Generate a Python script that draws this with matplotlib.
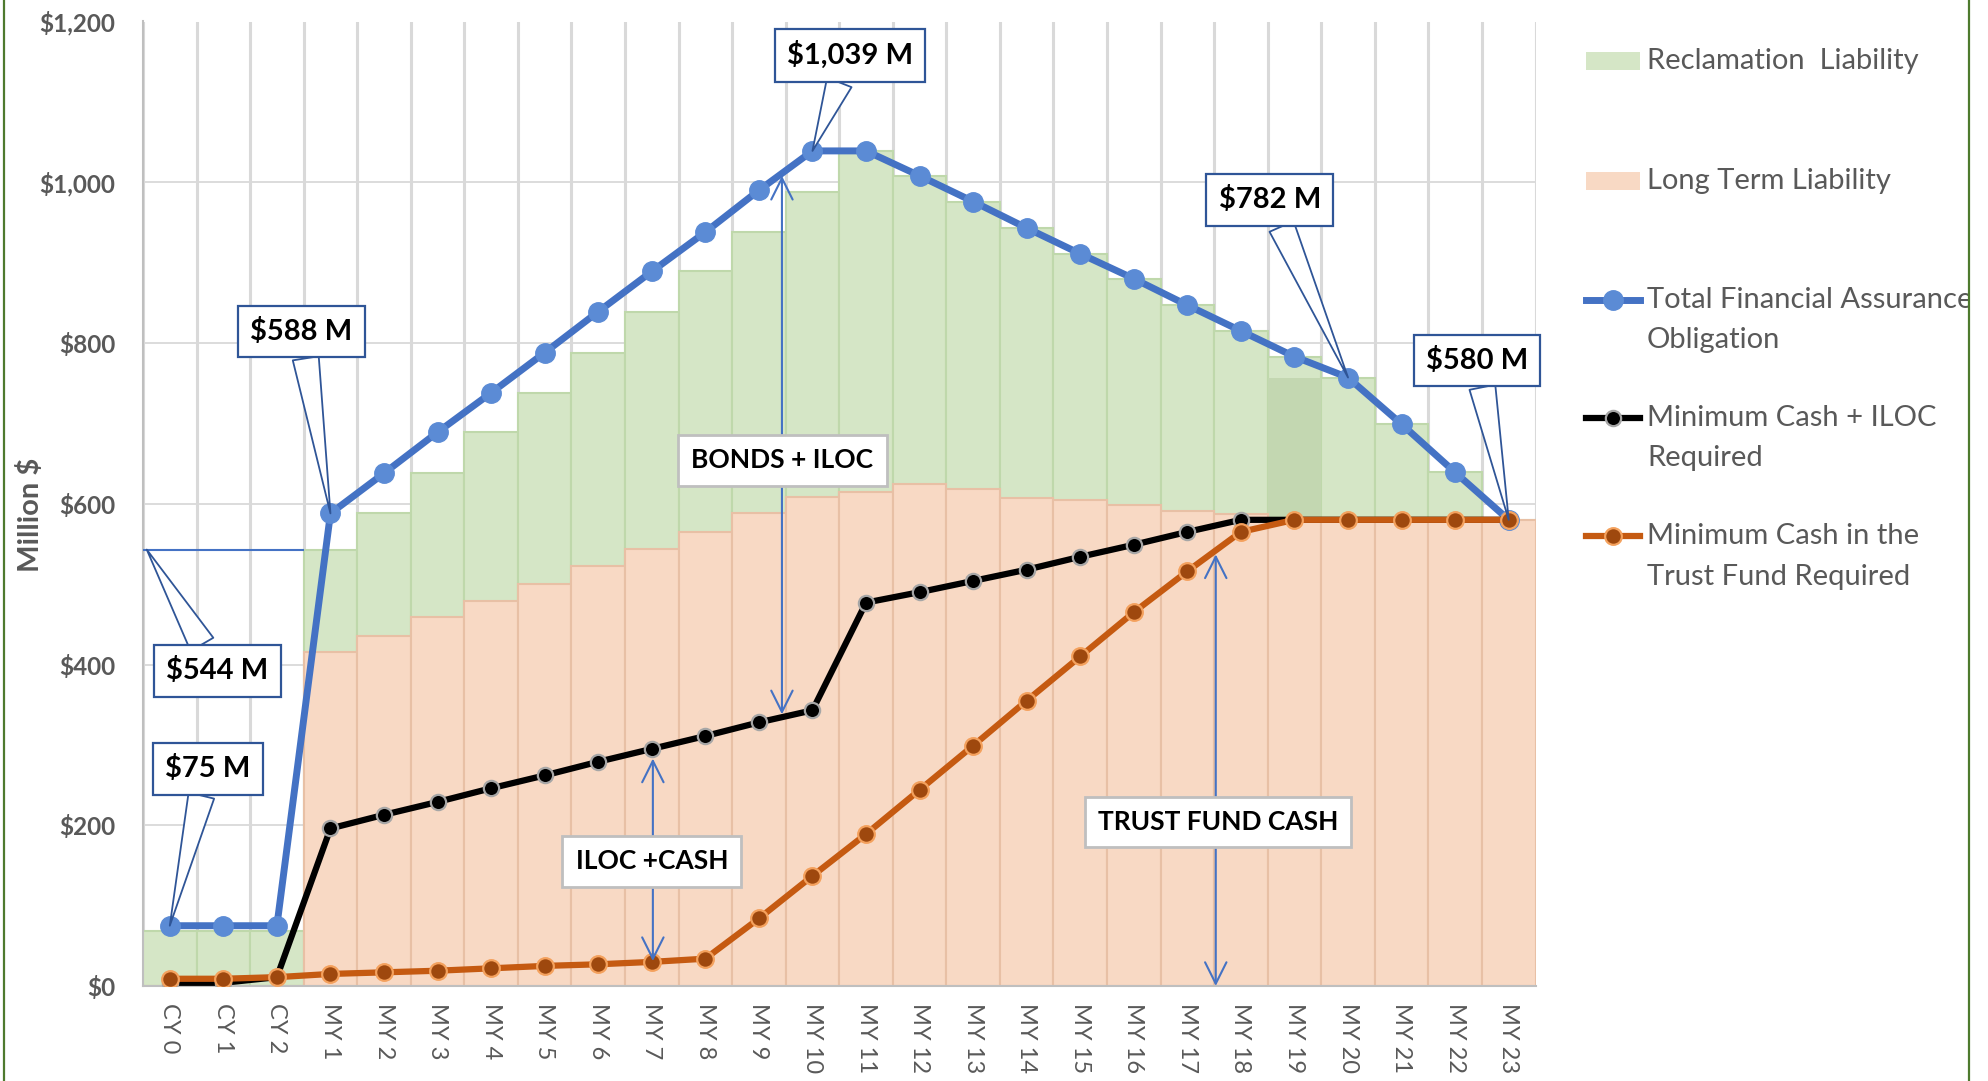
import numpy as np
import matplotlib.pyplot as plt
from matplotlib.patches import Rectangle
from matplotlib.lines import Line2D

plt.rcParams['font.family'] = ['Lato', 'DejaVu Sans']

# categories
years = ['CY 0', 'CY 1', 'CY 2'] + ['MY %d' % i for i in range(1, 24)]

# series ($ million)
reclamation = [69, 69, 69, 543, 588, 638, 689, 738, 788, 839, 889, 938, 988, 1039,
               1008, 976, 943, 911, 880, 847, 815, 783, 757, 699, 639, 580]
long_term = [0, 0, 0, 415, 436, 459, 479, 500, 523, 544, 565, 588, 609, 615,
             625, 618, 607, 605, 598, 591, 587, 580, 580, 580, 580, 580]
total_fa = [75, 75, 75, 588, 638, 689, 738, 788, 839, 889, 938, 990, 1039, 1039,
            1008, 976, 943, 911, 880, 847, 815, 783, 757, 699, 639, 580]
min_cash_iloc = [4, 4, 11, 196, 213, 229, 246, 262, 279, 295, 311, 328, 343, 477,
                 490, 504, 518, 534, 549, 565, 580, 580, 580, 580, 580, 580]
min_cash_trust = [9, 9, 11, 15, 17, 19, 22, 25, 27, 30, 34, 84, 137, 189,
                  244, 299, 355, 410, 465, 516, 565, 580, 580, 580, 580, 580]
overlap_year, overlap_val = 'MY 19', 757

yticks = [0, 200, 400, 600, 800, 1000, 1200]

GRAY = '#595959'
CALLOUT = '#2F5597'

fig = plt.figure(figsize=(19.88, 10.81), dpi=100)
ax = fig.add_axes([143 / 1988, 1 - 986 / 1081, (1535.5 - 143) / 1988, (986 - 21.5) / 1081])
x = np.arange(len(years))

ax.bar(x, reclamation, width=1.0, color='#D5E6C6', edgecolor='#BFD8AB', linewidth=1.5, zorder=1)
ax.bar(years.index(overlap_year), overlap_val, width=1.0, color='#C3D7B1', linewidth=0, zorder=1.1)
ax.bar(x, long_term, width=1.0, color='#F8D9C4', edgecolor='#E8C0A5', linewidth=1.5, zorder=1.2)

blue_style = dict(color='#4472C4', lw=5, marker='o', ms=14, mfc='#5B8BD5', mec='#5B8BD5')
black_style = dict(color='black', lw=4.5, marker='o', ms=11, mfc='black', mec='#A6A6A6', mew=1.6)
orange_style = dict(color='#C55A11', lw=4.5, marker='o', ms=12, mfc='#9E480E', mec='#F4A15D', mew=1.6)

ax.plot(x, total_fa, zorder=3, **blue_style)
ax.plot(x, min_cash_iloc, zorder=4, **black_style)
ax.plot(x, min_cash_trust, zorder=5, **orange_style)

ax.set_xlim(-0.5, len(years) - 0.5)
ax.set_ylim(0, 1200)
ax.set_yticks(yticks)
ax.set_yticklabels(['${:,}'.format(v) for v in yticks], fontsize=17.5, fontweight='bold', color=GRAY)
ax.set_xticks(x)
ax.set_xticklabels(years, rotation=-90, fontsize=17, color=GRAY)
ax.set_xticks(np.arange(-0.5, len(years), 1), minor=True)
ax.tick_params(axis='y', length=0, pad=20)
ax.tick_params(axis='x', which='both', length=0, pad=12)
ax.set_axisbelow(True)
ax.yaxis.grid(True, color='#D9D9D9', lw=1.3)
ax.xaxis.grid(True, which='minor', color='#D9D9D9', lw=2.2)
for s in ['top', 'right']:
    ax.spines[s].set_visible(False)
for s in ['left', 'bottom']:
    ax.spines[s].set_color('#BFBFBF')
    ax.spines[s].set_linewidth(1.5)

fig.text(30 / 1988, 1 - 515 / 1081, 'Million $', rotation=90, ha='center', va='center',
         fontsize=21, fontweight='bold', color=GRAY)

# $544 M reference line
i_my1 = years.index('MY 1')
ax.hlines(reclamation[i_my1], -0.5, i_my1 - 0.5, color='#4472C4', lw=1.5, zorder=6)


def callout(txt, xy, xytext):
    ax.annotate(txt, xy=xy, xytext=xytext, ha='center', va='center', fontsize=21,
                fontweight='bold', color='black', zorder=9, annotation_clip=False,
                bbox=dict(boxstyle='square,pad=0.42', fc='white', ec=CALLOUT, lw=1.6),
                arrowprops=dict(arrowstyle='wedge,tail_width=0.9,shrink_factor=0.5',
                                fc='white', ec=CALLOUT, lw=1.3, shrinkA=0, shrinkB=0))


callout('$75 M', (0, total_fa[0]), (0.71, 270))
callout('$544 M', (-0.43, reclamation[i_my1]), (0.89, 392))
callout('$588 M', (i_my1, total_fa[i_my1]), (2.46, 814))
i10 = years.index('MY 10')
callout('$1,039 M', (i10, total_fa[i10]), (12.7, 1158))
i20 = years.index('MY 20')
callout('$782 M', (i20, total_fa[i20]), (20.54, 978))
callout('$580 M', (len(years) - 1, total_fa[-1]), (24.41, 778))


def span(txt, xa, top, bottom, xt, yt):
    ax.annotate('', xy=(xa, top), xytext=(xa, bottom), zorder=7,
                arrowprops=dict(arrowstyle='<->,head_length=0.7,head_width=0.35', color='#4472C4',
                                lw=1.5, shrinkA=0, shrinkB=0, mutation_scale=22))
    ax.text(xt, yt, txt, ha='center', va='center', fontsize=19, fontweight='bold', color='black',
            zorder=8, bbox=dict(boxstyle='square,pad=0.5', fc='white', ec='#BFBFBF', lw=2))


span('BONDS + ILOC', 11.43, 1008, 338, 11.44, 654)
span('ILOC +CASH', 9.02, 283, 31, 9.0, 155)
span('TRUST FUND CASH', 19.53, 537, 0, 19.57, 204)

# legend and frame in figure pixels
lax = fig.add_axes([0, 0, 1, 1])
lax.set_xlim(0, 1988)
lax.set_ylim(1081, 0)
lax.axis('off')

lax.add_patch(Rectangle((1586, 52), 54, 18, fc='#D5E6C6', ec='none'))
lax.add_patch(Rectangle((1586, 172), 54, 18, fc='#F8D9C4', ec='none'))
for yy, st in [(300, blue_style), (418, black_style), (536, orange_style)]:
    line_only = {k: v for k, v in st.items() if k in ('color', 'lw')}
    lax.add_line(Line2D([1586, 1640], [yy, yy], **line_only))
    lax.plot([1613], [yy], linestyle='none', **{k: v for k, v in st.items() if k not in ('color', 'lw')})

legend_lines = [('Reclamation  Liability', 61), ('Long Term Liability', 181),
                ('Total Financial Assurance', 300), ('Obligation', 340),
                ('Minimum Cash + ILOC', 418), ('Required', 458),
                ('Minimum Cash in the', 536), ('Trust Fund Required', 577)]
for t, yy in legend_lines:
    lax.text(1647, yy, t, ha='left', va='center', fontsize=21, color=GRAY)

lax.add_patch(Rectangle((1970, 0), 18, 1081, fc='white', ec='none', zorder=10))
lax.add_line(Line2D([1969, 1969], [0, 1081], color='#4E7A2E', lw=1.6, zorder=11))
lax.add_line(Line2D([4, 4], [0, 1081], color='#4E7A2E', lw=1.6, zorder=11))

fig.savefig('out.png', dpi=100)
